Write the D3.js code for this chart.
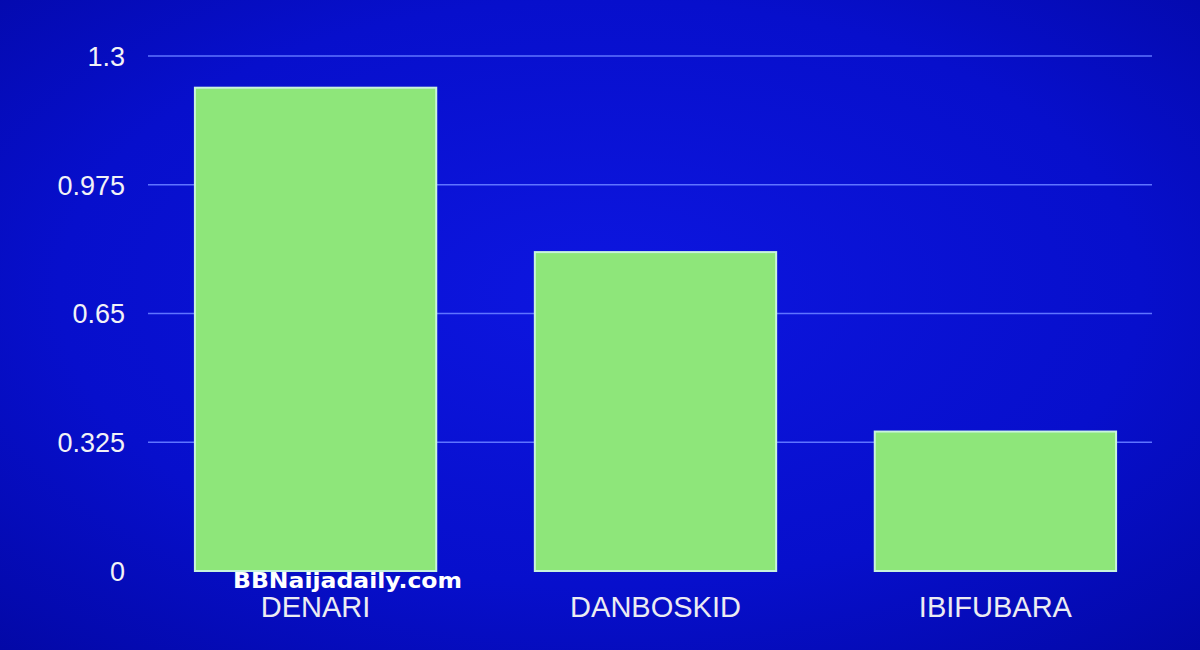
<!DOCTYPE html>
<html>
<head>
<meta charset="utf-8">
<script src="https://cdn.jsdelivr.net/npm/d3@7"></script>
<style>
html,body{margin:0;padding:0;background:#0a10c8;}
svg{display:block;}
</style>
</head>
<body>
<svg id="chart" width="1200" height="650"></svg>
<script>
const categories = ["DENARI", "DANBOSKID", "IBIFUBARA"];
const values = [1.22, 0.805, 0.352];
const tickValues = [0, 0.325, 0.65, 0.975, 1.3];
const tickLabels = ["0", "0.325", "0.65", "0.975", "1.3"];
const watermark = "BBNaijadaily.com";

const W = 1200, H = 650;
const svg = d3.select("#chart");

const defs = svg.append("defs");
const rg = defs.append("radialGradient").attr("id", "bg")
  .attr("cx", "50%").attr("cy", "45%").attr("r", "75%");
rg.append("stop").attr("offset", "0%").attr("stop-color", "#0d16e0");
rg.append("stop").attr("offset", "60%").attr("stop-color", "#070fcc");
rg.append("stop").attr("offset", "100%").attr("stop-color", "#0308a6");
svg.append("rect").attr("width", W).attr("height", H).attr("fill", "url(#bg)");

const x = d3.scaleBand().domain(categories).range([148, 1163])
  .paddingInner(0.29).paddingOuter(0.138);
const y = d3.scaleLinear().domain([0, 1.3]).range([571, 56]);

// gridlines
svg.append("g").selectAll("line")
  .data(tickValues.filter(v => v > 0))
  .join("line")
  .attr("x1", 148).attr("x2", 1152)
  .attr("y1", d => y(d)).attr("y2", d => y(d))
  .attr("stroke", "#5f74ff").attr("stroke-width", 1.6);

// y axis labels
const yAxis = d3.axisLeft(y).tickValues(tickValues)
  .tickFormat((d, i) => tickLabels[i]).tickSize(0).tickPadding(0);
const gy = svg.append("g").attr("transform", "translate(125,0)").call(yAxis);
gy.select(".domain").remove();
gy.selectAll("text")
  .attr("fill", "#f2f2f6")
  .attr("font-family", "Liberation Sans, Arial, sans-serif")
  .attr("font-size", 27)
  .attr("dy", "0.35em");

// bars
svg.append("g").selectAll("rect")
  .data(categories)
  .join("rect")
  .attr("x", d => x(d))
  .attr("width", x.bandwidth())
  .attr("y", (d, i) => y(values[i]))
  .attr("height", (d, i) => y(0) - y(values[i]))
  .attr("fill", "#8ee67a")
  .attr("stroke", "#c8f4dc")
  .attr("stroke-width", 2);

// x axis labels
const xAxis = d3.axisBottom(x).tickSize(0).tickPadding(0);
const gx = svg.append("g").attr("transform", "translate(0,607)").call(xAxis);
gx.select(".domain").remove();
gx.selectAll("text")
  .attr("fill", "#ececf2")
  .attr("font-family", "Liberation Sans, Arial, sans-serif")
  .attr("font-size", 29)
  .attr("dy", "0.35em");

// watermark
svg.append("text")
  .attr("x", 233).attr("y", 588)
  .attr("fill", "#ffffff")
  .attr("font-family", "DejaVu Sans, Liberation Sans, sans-serif")
  .attr("font-weight", "bold")
  .attr("font-size", 22)
  .attr("textLength", 229)
  .attr("lengthAdjust", "spacingAndGlyphs")
  .text(watermark);
</script>
</body>
</html>
